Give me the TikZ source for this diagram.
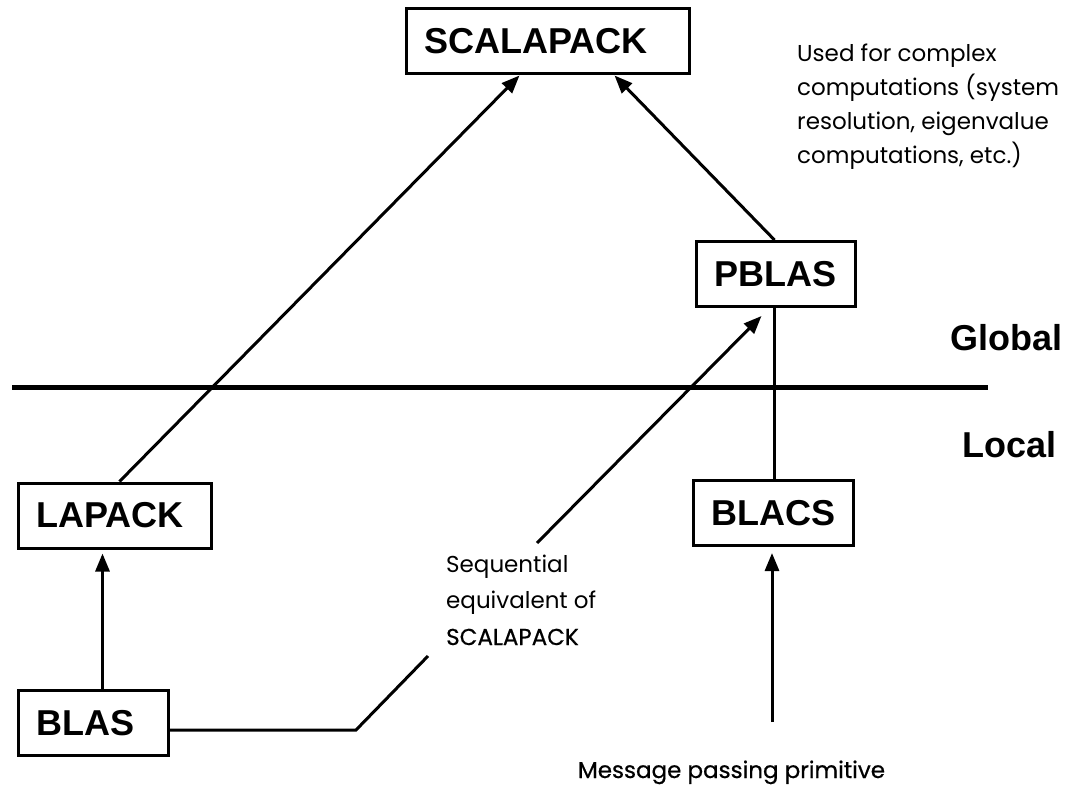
\documentclass[tikz,border=0pt]{standalone}
\usepackage{fontspec}
\setmainfont{Liberation Sans}
\newfontfamily\notefont{Poppins}
\newfontfamily\notemedium[FakeBold=0.6]{Poppins}
\usetikzlibrary{arrows.meta}
\tikzset{
  lib/.style={draw, line width=3pt, font=\fontsize{36}{40}\selectfont\bfseries,
    minimum height=65pt, inner xsep=18pt, inner ysep=0pt, anchor=west,
    align=left, text width=#1},
  note/.style={font=\notefont\fontsize{23}{34}\selectfont, inner sep=0pt,
    anchor=base west, align=left},
  level/.style={font=\fontsize{36}{40}\selectfont\bfseries, inner sep=0pt,
    anchor=base east},
  link/.style={line width=3pt},
  uses/.style={line width=3pt, -{Triangle[length=18pt,width=14pt]}}
}
\begin{document}
\begin{tikzpicture}[x=1pt,y=-1pt]
  \useasboundingbox (0,0) rectangle (1078,786);
  \node[lib=247pt] (scalapack) at (405,41.5) {SCALAPACK};
  \node[lib=123pt] (pblas) at (695,274) {PBLAS};
  \node[lib=157pt] (lapack) at (17,515.5) {LAPACK};
  \node[lib=124pt] (blacs) at (692,513) {BLACS};
  \node[lib=114pt] (blas) at (17,723) {BLAS};
  \node[level] (global) at (1063,350) {Global};
  \node[level] (local) at (1057,457) {Local};
  \node[note] (usage) at (797,164)
    {Used for complex\\computations (system\\resolution, eigenvalue\\computations, etc.)};
  \node[note, font=\notefont\fontsize{23}{36.5}\selectfont] (seq) at (446,645)
    {Sequential\\equivalent of\\{\notemedium SCALAPACK}};
  \node[note, anchor=base, font=\notemedium\fontsize{23}{34}\selectfont] (msg)
    at (731.5,778) {Message passing primitive};
  \coordinate (bend) at (356,730);
  \coordinate (gapA) at (428,656);
  \coordinate (gapB) at (537,543);
  \coordinate (mptail) at (772,722);
  \draw[line width=5pt] (12,387) -- (988,387);
  \begin{scope}[uses]
    \draw ([xshift=4.5pt]lapack.north) -- ([xshift=-28.5pt]scalapack.south);
    \draw ([xshift=-1.5pt]pblas.north) -- ([xshift=66.5pt]scalapack.south);
    \draw[shorten >=4pt] ([xshift=9pt]blas.north) -- ([xshift=9pt]blas.north |- lapack.south);
    \draw (gapB) -- ([xshift=-14.5pt,yshift=-8pt]pblas.south);
    \draw[shorten >=6pt] (mptail) -- (mptail |- blacs.south);
  \end{scope}
  \begin{scope}[link]
    \draw ([yshift=-7pt]blas.east) -- (bend) -- (gapA);
    \draw ([xshift=-1.5pt]pblas.south) -- ([xshift=-1.5pt]pblas.south |- blacs.north);
  \end{scope}
\end{tikzpicture}
\end{document}
